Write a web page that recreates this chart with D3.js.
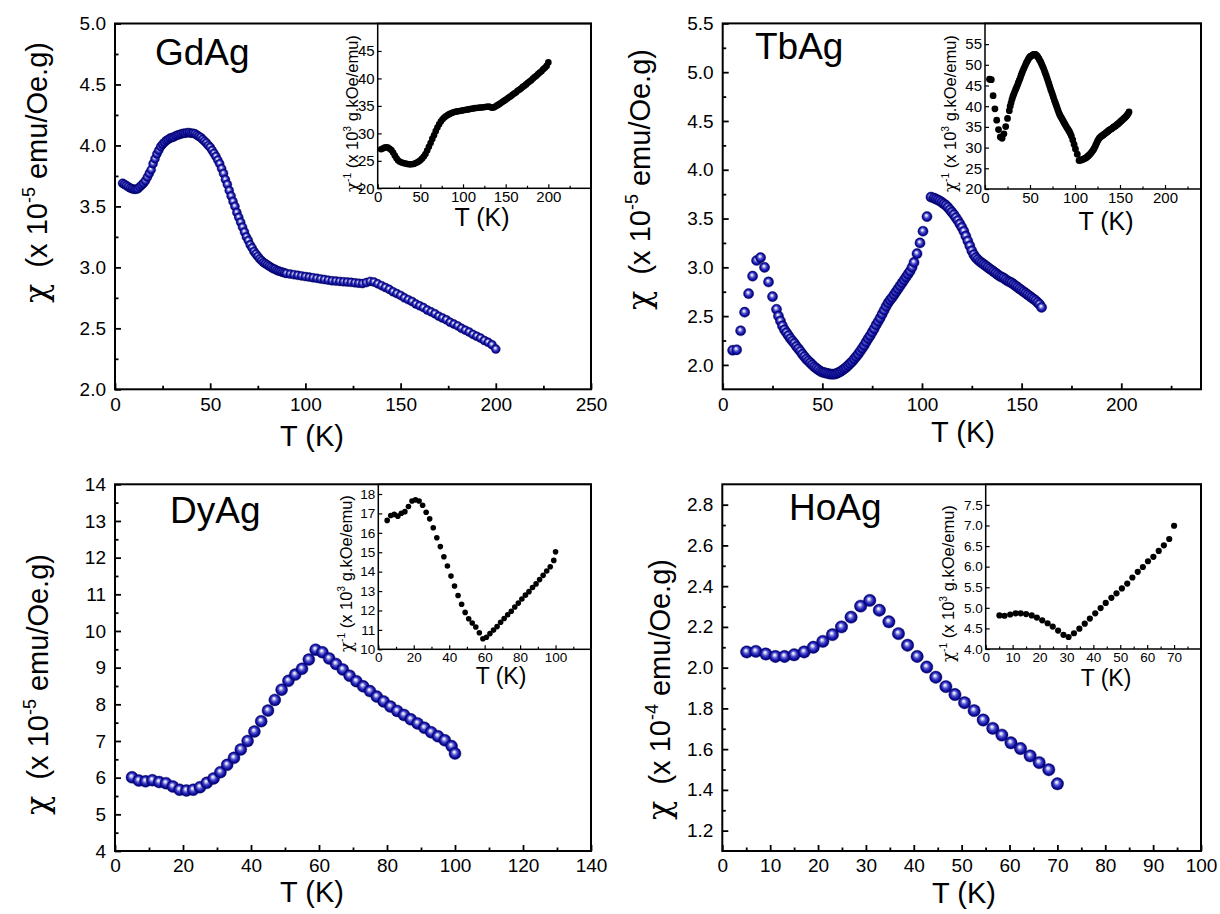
<!DOCTYPE html>
<html><head><meta charset="utf-8">
<script src="https://cdn.jsdelivr.net/npm/d3@7"></script>
<style>
html,body{margin:0;padding:0;background:#fff;}
svg{display:block;font-family:"Liberation Sans",Arial,Helvetica,sans-serif;}
text{white-space:pre;}
</style></head><body>
<svg id="chart" width="1220" height="914"></svg>
<script>
// ---------------- DATA ----------------
// GdAg main: chi (x1e-5 emu/Oe.g) vs T (K)
const gdT = [4,5,6,7,8,9,10,11,12,13,14,15,16,17,18,19,20,21,22,23,24,25,26,27,28,29,30,31,32,33,34,35,36,37,38,39,40,41,42,43,44,45,46,47,48,49,50,51,52,53,54,55,56,57,58,59,60,61,62,63,64,65,66,67,68,69,70,71,72,73,74,75,76,77,78,79,80,81,82,83,84,85,86,87,88,89,90,
92,94,96,98,100,102,104,106,108,110,112,114,116,118,120,122,124,126,128,130,132,134,136,138,140,142,144,146,148,150,152,154,156,158,160,162,164,166,168,170,172,174,176,178,180,182,184,186,188,190,192,194,196,198,200];
const gdChi = [3.69,3.68,3.67,3.66,3.65,3.645,3.64,3.64,3.645,3.66,3.675,3.69,3.71,3.74,3.77,3.80,3.85,3.89,3.93,3.96,3.99,4.01,4.025,4.04,4.05,4.06,4.065,4.07,4.08,4.085,4.09,4.095,4.10,4.10,4.105,4.105,4.10,4.10,4.095,4.085,4.075,4.065,4.05,4.035,4.02,4.00,3.985,3.96,3.935,3.91,3.88,3.85,3.81,3.77,3.72,3.68,3.63,3.585,3.54,3.50,3.45,3.41,3.37,3.33,3.29,3.25,3.22,3.185,3.16,3.13,3.11,3.09,3.07,3.055,3.04,3.03,3.02,3.01,3.00,2.99,2.985,2.975,2.97,2.965,2.96,2.955,2.95,
2.945,2.94,2.935,2.93,2.925,2.92,2.915,2.91,2.905,2.90,2.895,2.89,2.888,2.885,2.882,2.88,2.877,2.873,2.87,2.867,2.875,2.885,2.88,2.865,2.85,2.835,2.82,2.80,2.785,2.77,2.75,2.735,2.72,2.70,2.685,2.67,2.65,2.635,2.62,2.60,2.585,2.57,2.55,2.535,2.52,2.50,2.485,2.47,2.45,2.435,2.42,2.40,2.385,2.365,2.33];
// GdAg inset: 1/chi (x1e3 g.kOe/emu)
const gdInvT = [4,6,8,10,12,14,16,18,20,22,24,26,28,30,32,34,36,38,40,42,44,46,48,50,52,54,56,58,60,62,64,66,68,70,72,74,76,78,80,82,84,86,88,90,92,94,96,98,100,102,104,106,108,110,112,114,116,118,120,122,124,126,128,130,132,134,136,138,140,142,144,146,148,150,152,154,156,158,160,162,164,166,168,170,172,174,176,178,180,182,184,186,188,190,192,194,196,198,200];
const gdInv = [27.10,27.25,27.40,27.47,27.43,27.21,26.95,26.53,25.97,25.45,25.06,24.84,24.69,24.60,24.51,24.45,24.39,24.36,24.39,24.42,24.54,24.69,24.88,25.09,25.41,25.77,26.25,26.88,27.55,28.25,28.99,29.67,30.40,31.06,31.65,32.15,32.57,32.89,33.11,33.33,33.50,33.67,33.78,33.90,33.96,34.01,34.07,34.13,34.19,34.25,34.31,34.36,34.42,34.48,34.54,34.60,34.63,34.66,34.70,34.72,34.76,34.81,34.84,34.88,34.78,34.66,34.72,34.90,35.09,35.27,35.46,35.71,35.91,36.10,36.36,36.56,36.76,37.04,37.24,37.45,37.74,37.95,38.17,38.46,38.68,38.91,39.22,39.45,39.68,40.00,40.24,40.49,40.82,41.07,41.32,41.67,41.93,42.28,42.92];

// TbAg
const tbT = [5,7,9,11,13,15,17,19,21,23,25,27,28,29,30,31,32,33,34,35,36,37,38,39,40,41,42,43,44,45,46,47,48,49,50,51,52,53,54,55,56,57,58,59,60,61,62,63,64,65,66,67,68,69,70,71,72,73,74,75,76,77,78,79,80,81,82,83,84,85,86,87,88,89,90,91,92,93,94,95,
96,97.5,99,100.5,102.5,104.5,
106,107,108,109,110,111,112,113,114,115,116,117,118,119,120,121,122,123,124,125,126,127,128,129,130,131,132,133,134,135,136,137,138,139,140,141,142,143,144,145,146,147,148,149,150,151,152,153,154,155,156,157,158,159,160];
const tbChi = [2.15,2.155,2.35,2.54,2.73,2.91,3.07,3.10,3.00,2.85,2.70,2.57,
2.50,2.45,2.40,2.36,2.33,2.30,2.27,2.245,2.22,2.19,2.165,2.14,2.11,2.085,2.06,2.04,2.02,2.00,1.98,1.965,1.95,1.935,1.925,1.92,1.915,1.91,1.905,1.905,1.905,1.91,1.92,1.93,1.945,1.96,1.975,1.995,2.015,2.035,2.06,2.085,2.11,2.14,2.17,2.20,2.235,2.27,2.30,2.335,2.37,2.41,2.445,2.48,2.52,2.56,2.60,2.635,2.665,2.69,2.72,2.75,2.78,2.81,2.84,2.87,2.90,2.93,2.96,3.00,
3.05,3.14,3.25,3.37,3.52,3.72,
3.71,3.70,3.69,3.68,3.665,3.65,3.635,3.615,3.59,3.565,3.54,3.51,3.48,3.445,3.41,3.37,3.32,3.27,3.22,3.17,3.13,3.10,3.08,3.06,3.045,3.03,3.015,3.00,2.985,2.97,2.955,2.94,2.925,2.91,2.90,2.89,2.875,2.86,2.85,2.84,2.825,2.81,2.795,2.78,2.765,2.75,2.735,2.72,2.705,2.69,2.675,2.66,2.64,2.62,2.59];
const tbInv = [46.51,46.40,42.55,39.37,36.63,34.36,32.57,32.26,33.33,35.09,37.04,38.91,
40.00,40.82,41.67,42.37,42.92,43.48,44.05,44.54,45.05,45.66,46.19,46.73,47.39,47.96,48.54,49.02,49.50,50.00,50.51,50.89,51.28,51.68,51.95,52.08,52.22,52.36,52.49,52.49,52.49,52.36,52.08,51.81,51.41,51.02,50.63,50.13,49.63,49.14,48.54,47.96,47.39,46.73,46.08,45.45,44.74,44.05,43.48,42.83,42.19,41.49,40.90,40.32,39.68,39.06,38.46,37.95,37.52,37.17,36.76,36.36,35.97,35.59,35.21,34.84,34.48,34.13,33.78,33.33,
32.79,31.85,30.77,29.67,28.41,26.88,
26.95,27.03,27.10,27.17,27.29,27.40,27.51,27.66,27.86,28.05,28.25,28.49,28.74,29.03,29.33,29.67,30.12,30.58,31.06,31.55,31.95,32.26,32.47,32.68,32.84,33.00,33.17,33.33,33.50,33.67,33.84,34.01,34.19,34.36,34.48,34.60,34.78,34.97,35.09,35.21,35.40,35.59,35.78,35.97,36.17,36.36,36.56,36.76,36.97,37.17,37.38,37.59,37.88,38.17,38.61];

// DyAg
const dyT = [5,7,9,11,13,15,17,19,21,23,25,27,29,31,33,35,37,39,41,43,45,47,49,51,53,55,57,59,61,63,65,67,69,71,73,75,77,79,81,83,85,87,89,91,93,95,97,99,100];
const dyChi = [6.01,5.92,5.90,5.93,5.88,5.85,5.76,5.67,5.65,5.67,5.74,5.86,5.98,6.15,6.35,6.54,6.77,7.00,7.26,7.54,7.83,8.12,8.40,8.64,8.81,8.97,9.22,9.49,9.42,9.25,9.10,8.95,8.78,8.63,8.49,8.36,8.21,8.08,7.94,7.82,7.71,7.59,7.48,7.36,7.24,7.13,7.02,6.86,6.66];
const dyInv = [16.64,16.89,16.95,16.86,17.01,17.09,17.36,17.64,17.70,17.64,17.42,17.06,16.72,16.26,15.75,15.29,14.77,14.29,13.77,13.26,12.77,12.32,11.90,11.57,11.35,11.15,10.85,10.54,10.62,10.81,10.99,11.17,11.39,11.59,11.78,11.96,12.18,12.38,12.59,12.79,12.97,13.18,13.37,13.59,13.81,14.03,14.25,14.58,15.02];

// HoAg (chi in x1e-4)
const hoT = [5.1,7.0,9.1,11.1,13.0,15.0,17.1,19.0,21.0,23.0,24.9,26.9,28.9,30.8,32.8,34.8,36.8,38.7,40.7,42.7,44.6,46.7,48.6,50.6,52.6,54.5,56.5,58.4,60.3,62.3,64.3,66.2,68.2,70.0];
const hoChi = [2.077,2.080,2.067,2.055,2.055,2.063,2.077,2.100,2.129,2.162,2.200,2.248,2.302,2.330,2.282,2.225,2.167,2.110,2.055,2.003,1.953,1.907,1.868,1.828,1.789,1.743,1.702,1.669,1.631,1.603,1.567,1.534,1.499,1.430];
const hoInv = [4.815,4.808,4.838,4.866,4.866,4.847,4.815,4.762,4.697,4.625,4.545,4.448,4.344,4.292,4.382,4.494,4.615,4.739,4.866,4.993,5.120,5.244,5.353,5.470,5.590,5.737,5.875,5.992,6.131,6.238,6.382,6.519,6.671,6.993];

// Tick labels
const gdXTicks = [0,50,100,150,200,250], gdYTicks = [2.0,2.5,3.0,3.5,4.0,4.5,5.0];
const gdIXTicks = [0,50,100,150,200], gdIYTicks = [20,25,30,35,40,45];
const tbXTicks = [0,50,100,150,200], tbYTicks = [2.0,2.5,3.0,3.5,4.0,4.5,5.0,5.5];
const tbIXTicks = [0,50,100,150,200], tbIYTicks = [20,25,30,35,40,45,50,55];
const dyXTicks = [0,20,40,60,80,100,120,140], dyYTicks = [4,5,6,7,8,9,10,11,12,13,14];
const dyIXTicks = [0,20,40,60,80,100], dyIYTicks = [10,11,12,13,14,15,16,17,18];
const hoXTicks = [0,10,20,30,40,50,60,70,80,90,100], hoYTicks = [1.2,1.4,1.6,1.8,2.0,2.2,2.4,2.6,2.8];
const hoIXTicks = [0,10,20,30,40,50,60,70], hoIYTicks = [4.0,4.5,5.0,5.5,6.0,6.5,7.0,7.5];

// ---------------- DRAW ----------------
const svg = d3.select("#chart");
const defs = svg.append("defs");
const grad = defs.append("radialGradient").attr("id","sphere")
  .attr("cx","50%").attr("cy","50%").attr("r","50%").attr("fx","42%").attr("fy","36%");
[[0,"#ffffff"],[0.18,"#d0d0f4"],[0.45,"#5252cc"],[0.75,"#1010a6"],[1,"#000068"]]
  .forEach(([o,c])=>grad.append("stop").attr("offset",o).attr("stop-color",c));

function axes(g, x, y, o){
  const [xa,xb]=x.range(), [yb,ya]=y.range();
  const style = sel => {
    sel.attr("font-size",null).attr("font-family",null);
    sel.selectAll("text").attr("font-size",o.fs).attr("fill","#000");
    sel.selectAll("line").attr("stroke","#000").attr("stroke-width",o.tw);
    sel.select(".domain").remove();
  };
  if(o.xMinor) g.append("g").attr("transform",`translate(0,${yb})`)
    .call(d3.axisBottom(x).tickValues(o.xMinor).tickSize(-o.mn).tickFormat("")).call(style);
  if(o.yMinor) g.append("g").attr("transform",`translate(${xa},0)`)
    .call(d3.axisLeft(y).tickValues(o.yMinor).tickSize(-o.mn).tickFormat("")).call(style);
  g.append("g").attr("transform",`translate(0,${yb})`)
    .call(d3.axisBottom(x).tickValues(o.xTicks).tickSize(-o.mj).tickPadding(o.xp).tickFormat(o.xf)).call(style);
  g.append("g").attr("transform",`translate(${xa},0)`)
    .call(d3.axisLeft(y).tickValues(o.yTicks).tickSize(-o.mj).tickPadding(o.yp).tickFormat(o.yf)).call(style);
  g.append("rect").attr("x",xa).attr("y",ya).attr("width",xb-xa).attr("height",yb-ya)
    .attr("fill","none").attr("stroke","#000").attr("stroke-width",o.sw);
}

function supText(x, y, rot, size, parts){
  const t = svg.append("text").attr("transform",`translate(${x},${y}) rotate(${rot})`)
    .attr("font-size",size).attr("fill","#000");
  let shifted = false;
  parts.forEach(p=>{
    const s = t.append("tspan").text(p.t);
    if(p.greek) s.attr("font-family","'DejaVu Serif',serif").attr("font-size",size*(p.scale||1));
    if(p.sup){ s.attr("font-size",size*0.62).attr("dy",-size*0.42); shifted = true; }
    else if(shifted){ s.attr("dy",size*0.42); shifted = false; }
  });
  return t;
}

const f1 = d3.format(".1f"), f0 = d3.format("d");

const panels = [
 {name:"GdAg", T:gdT, V:gdChi, IT:gdInvT, IV:gdInv, exp:"-5",
  x0:115, x1:591, yTop:23.5, yBot:389.3, xDom:[0,250], yDom:[2.0,5.0],
  xTicks:gdXTicks, yTicks:gdYTicks, xMinor:d3.range(25,250,50), yMinor:d3.range(2.25,5,0.5), xf:f0, yf:f1, r:4.5,
  ix0:377.7, iyBot:188.3, ixDom:[0,250], iyDom:[20,50], ixTicks:gdIXTicks, iyTicks:gdIYTicks,
  ixMinor:d3.range(25,250,50), iyMinor:null, ixf:f0, iyf:f0, ir:3.3, ifs:15,
  title:[155,65], xt:[312,446], yl:[47,303], ixt:[482,226], ixfs:25, iyl:[358,192]},
 {name:"TbAg", T:tbT, V:tbChi, IT:tbT, IV:tbInv, exp:"-5",
  x0:722.7, x1:1201, yTop:23.4, yBot:389.3, xDom:[0,240], yDom:[1.75,5.5],
  xTicks:tbXTicks, yTicks:tbYTicks, xMinor:d3.range(25,240,50), yMinor:d3.range(2.25,5.5,0.5), xf:f0, yf:f1, r:5.1,
  ix0:985, iyBot:189, ixDom:[0,240], iyDom:[20,60], ixTicks:tbIXTicks, iyTicks:tbIYTicks,
  ixMinor:d3.range(25,240,50), iyMinor:null, ixf:f0, iyf:f0, ir:3.4, ifs:15,
  title:[755,59], xt:[963,442], yl:[650,310], ixt:[1106,230], ixfs:25, iyl:[956,192]},
 {name:"DyAg", T:dyT, V:dyChi, IT:dyT, IV:dyInv, exp:"-5",
  x0:115, x1:591, yTop:484.3, yBot:851, xDom:[0,140], yDom:[4,14],
  xTicks:dyXTicks, yTicks:dyYTicks, xMinor:d3.range(10,140,20), yMinor:d3.range(4.5,14,1), xf:f0, yf:f0, r:6,
  ix0:378.3, iyBot:649.3, ixDom:[0,120], iyDom:[10,18.5], ixTicks:dyIXTicks, iyTicks:dyIYTicks,
  ixMinor:d3.range(10,120,20), iyMinor:null, ixf:f0, iyf:f0, ir:2.8, ifs:13.5,
  title:[170,523], xt:[312,902], yl:[48,815], ixt:[501,684], ixfs:23, iyl:[352,652]},
 {name:"HoAg", T:hoT, V:hoChi, IT:hoT, IV:hoInv, exp:"-4",
  x0:722.3, x1:1201, yTop:484.3, yBot:851, xDom:[0,100], yDom:[1.1,2.9],
  xTicks:hoXTicks, yTicks:hoYTicks, xMinor:d3.range(5,100,10), yMinor:d3.range(1.3,2.85,0.2), xf:f0, yf:f1, r:6.2,
  ix0:985.7, iyBot:649, ixDom:[0,80], iyDom:[4,8], ixTicks:hoIXTicks, iyTicks:hoIYTicks,
  ixMinor:d3.range(5,80,10), iyMinor:null, ixf:f0, iyf:f1, ir:3.1, ifs:13.5,
  title:[789,520], xt:[964,903], yl:[670,820], ixt:[1106,686], ixfs:23, iyl:[954,662]}
];

panels.forEach(p=>{
  const g = svg.append("g");
  const x = d3.scaleLinear().domain(p.xDom).range([p.x0,p.x1]);
  const y = d3.scaleLinear().domain(p.yDom).range([p.yBot,p.yTop]);
  axes(g,x,y,{xTicks:p.xTicks,yTicks:p.yTicks,xMinor:p.xMinor,yMinor:p.yMinor,xf:p.xf,yf:p.yf,
    mj:6,mn:3.5,xp:8,yp:9,fs:19,tw:1.8,sw:2});
  g.append("g").selectAll("circle").data(d3.zip(p.T,p.V)).join("circle")
    .attr("cx",d=>x(d[0])).attr("cy",d=>y(d[1])).attr("r",p.r)
    .attr("fill","url(#sphere)").attr("stroke","#00005c").attr("stroke-width",0.4);

  const gi = svg.append("g");
  const xi = d3.scaleLinear().domain(p.ixDom).range([p.ix0,p.x1]);
  const yi = d3.scaleLinear().domain(p.iyDom).range([p.iyBot,p.yTop]);
  axes(gi,xi,yi,{xTicks:p.ixTicks,yTicks:p.iyTicks,xMinor:p.ixMinor,yMinor:p.iyMinor,xf:p.ixf,yf:p.iyf,
    mj:4,mn:2.5,xp:3,yp:3,fs:p.ifs,tw:1.2,sw:1.5});
  gi.append("g").selectAll("circle").data(d3.zip(p.IT,p.IV)).join("circle")
    .attr("cx",d=>xi(d[0])).attr("cy",d=>yi(d[1])).attr("r",p.ir).attr("fill","#000");

  svg.append("text").attr("x",p.title[0]).attr("y",p.title[1]).attr("font-size",37).text(p.name);
  svg.append("text").attr("x",p.xt[0]).attr("y",p.xt[1]).attr("font-size",29).attr("text-anchor","middle").text("T (K)");
  svg.append("text").attr("x",p.ixt[0]).attr("y",p.ixt[1]).attr("font-size",p.ixfs).attr("text-anchor","middle").text("T (K)");
  supText(p.yl[0],p.yl[1],-90,29,[{t:"χ",greek:true,scale:1.1},{t:"  (x 10"},{t:p.exp,sup:true},{t:" emu/Oe.g)"}]);
  supText(p.iyl[0],p.iyl[1],-90,16.5,[{t:"χ",greek:true},{t:"-1",sup:true},{t:" (x 10"},{t:"3",sup:true},{t:" g.kOe/emu)"}]);
});
</script>
</body></html>
